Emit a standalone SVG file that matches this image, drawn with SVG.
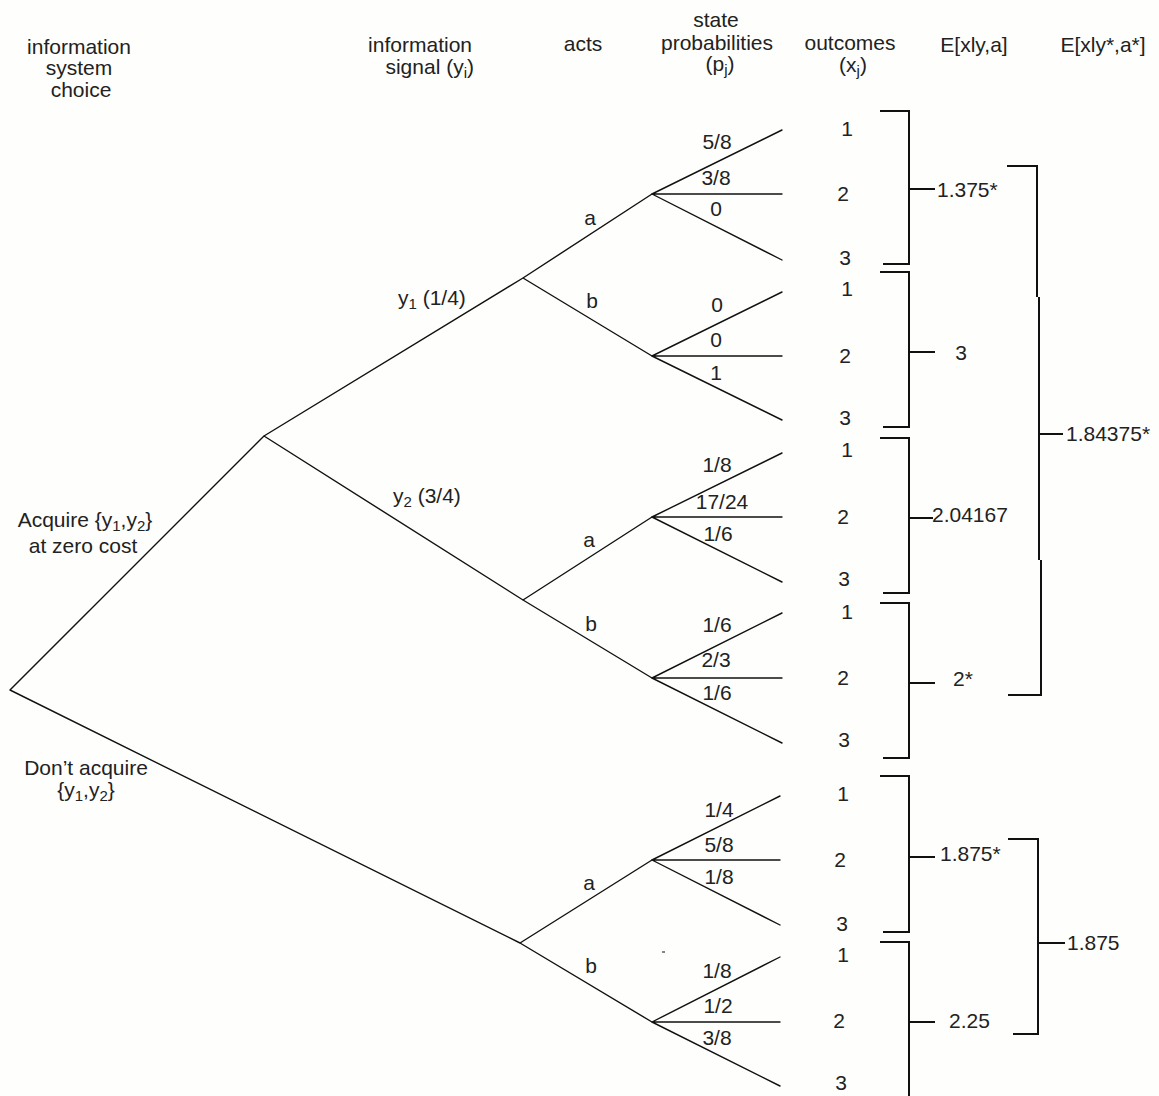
<svg xmlns="http://www.w3.org/2000/svg" width="1159" height="1096" viewBox="0 0 1159 1096">
<style>
text{font-family:"Liberation Sans",Arial,sans-serif;font-size:21px;fill:#222}
.m{text-anchor:middle}
.e{text-anchor:end}
.sub{font-size:15px}
.tree{stroke:#111;stroke-width:1.4;fill:none;stroke-linecap:round}
.br{stroke:#111;stroke-width:2;fill:none}
</style>
<rect width="1159" height="1096" fill="#fefefc"/>
<g id="headers">
<text class="m" x="79" y="54">information</text>
<text class="m" x="79" y="75">system</text>
<text class="m" x="81" y="97">choice</text>
<text class="e" x="472" y="52">information</text>
<text class="e" x="474" y="74">signal (y<tspan class="sub" dy="4">i</tspan><tspan dy="-4">)</tspan></text>
<text class="m" x="583" y="51">acts</text>
<text class="m" x="716" y="27">state</text>
<text class="m" x="717" y="50">probabilities</text>
<text class="m" x="720" y="71">(p<tspan class="sub" dy="4">j</tspan><tspan dy="-4">)</tspan></text>
<text class="m" x="850" y="50">outcomes</text>
<text class="m" x="853" y="72">(x<tspan class="sub" dy="4">j</tspan><tspan dy="-4">)</tspan></text>
<text class="m" x="974" y="52">E[xly,a]</text>
<text class="m" x="1103" y="52">E[xly*,a*]</text>
</g>
<g id="connectors">
<path class="tree" d="M10,690 L264,436 M10,690 L520,943 M264,436 L523,278 M264,436 L523,600 M523,278 L652,194 M523,278 L652,356 M523,600 L652,517 M523,600 L652,678 M520,943 L652,860 M520,943 L652,1022"/>
<path class="tree" d="M652,194 L782,130 M652,194 L782,194 M652,194 L782,260 M652,356 L782,292 M652,356 L782,356 M652,356 L782,420 M652,517 L782,453 M652,517 L782,517 M652,517 L782,582 M652,678 L782,613 M652,678 L782,678 M652,678 L782,743 M652,860 L780,796 M652,860 L780,860 M652,860 L780,925 M652,1022 L780,957 M652,1022 L780,1022 M652,1022 L780,1086"/>
<path class="br" d="M880,111 H909 V264 H883 M909,189 H935"/>
<path class="br" d="M880,272 H909 V427 H883 M909,352 H935"/>
<path class="br" d="M880,438 H909 V593 H883 M909,518 H933"/>
<path class="br" d="M880,603 H909 V758 H883 M909,683 H935"/>
<path class="br" d="M880,776 H909 V932 H883 M909,857 H935"/>
<path class="br" d="M880,942 H909 V1100 M909,1022 H935"/>
<path class="br" d="M1007,166 H1037 V297 M1039,297 V560 M1041,560 V695 H1008 M1039,434 H1063"/>
<path class="br" d="M1008,839 H1038 V1034 H1013 M1038,943 H1065"/>
<path stroke="#333" stroke-width="1.2" d="M662,952 H665"/>
</g>
<g id="choice-labels">
<text class="m" x="85" y="527">Acquire {y<tspan class="sub" dy="4">1</tspan><tspan dy="-4">,y</tspan><tspan class="sub" dy="4">2</tspan><tspan dy="-4">}</tspan></text>
<text class="m" x="83" y="553">at zero cost</text>
<text class="m" x="86" y="775">Don’t acquire</text>
<text class="m" x="86" y="797">{y<tspan class="sub" dy="4">1</tspan><tspan dy="-4">,y</tspan><tspan class="sub" dy="4">2</tspan><tspan dy="-4">}</tspan></text>
</g>
<g id="signal-labels">
<text x="398" y="305">y<tspan class="sub" dy="4">1</tspan><tspan dy="-4"> (1/4)</tspan></text>
<text x="393" y="503">y<tspan class="sub" dy="4">2</tspan><tspan dy="-4"> (3/4)</tspan></text>
</g>
<g id="act-labels">
<text class="m" x="590" y="225">a</text>
<text class="m" x="592" y="308">b</text>
<text class="m" x="589" y="547">a</text>
<text class="m" x="591" y="631">b</text>
<text class="m" x="589" y="890">a</text>
<text class="m" x="591" y="973">b</text>
</g>
<g id="probabilities">
<text class="m" x="717" y="149">5/8</text>
<text class="m" x="716" y="185">3/8</text>
<text class="m" x="716" y="216">0</text>
<text class="m" x="717" y="312">0</text>
<text class="m" x="716" y="347">0</text>
<text class="m" x="716" y="380">1</text>
<text class="m" x="717" y="472">1/8</text>
<text class="m" x="722" y="509">17/24</text>
<text class="m" x="718" y="541">1/6</text>
<text class="m" x="717" y="632">1/6</text>
<text class="m" x="716" y="667">2/3</text>
<text class="m" x="717" y="700">1/6</text>
<text class="m" x="719" y="817">1/4</text>
<text class="m" x="719" y="852">5/8</text>
<text class="m" x="719" y="884">1/8</text>
<text class="m" x="717" y="978">1/8</text>
<text class="m" x="718" y="1013">1/2</text>
<text class="m" x="717" y="1045">3/8</text>
</g>
<g id="outcomes">
<text class="m" x="847" y="136">1</text>
<text class="m" x="843" y="201">2</text>
<text class="m" x="845" y="265">3</text>
<text class="m" x="847" y="296">1</text>
<text class="m" x="845" y="363">2</text>
<text class="m" x="845" y="425">3</text>
<text class="m" x="847" y="457">1</text>
<text class="m" x="843" y="524">2</text>
<text class="m" x="844" y="586">3</text>
<text class="m" x="847" y="619">1</text>
<text class="m" x="843" y="685">2</text>
<text class="m" x="844" y="747">3</text>
<text class="m" x="843" y="801">1</text>
<text class="m" x="840" y="867">2</text>
<text class="m" x="842" y="931">3</text>
<text class="m" x="843" y="962">1</text>
<text class="m" x="839" y="1028">2</text>
<text class="m" x="841" y="1090">3</text>
</g>
<g id="expected-values">
<text x="937" y="197">1.375*</text>
<text class="m" x="961" y="360">3</text>
<text x="932" y="522">2.04167</text>
<text x="953" y="686">2*</text>
<text x="940" y="861">1.875*</text>
<text x="949" y="1028">2.25</text>
<text x="1066" y="441">1.84375*</text>
<text x="1067" y="950">1.875</text>
</g>
</svg>
